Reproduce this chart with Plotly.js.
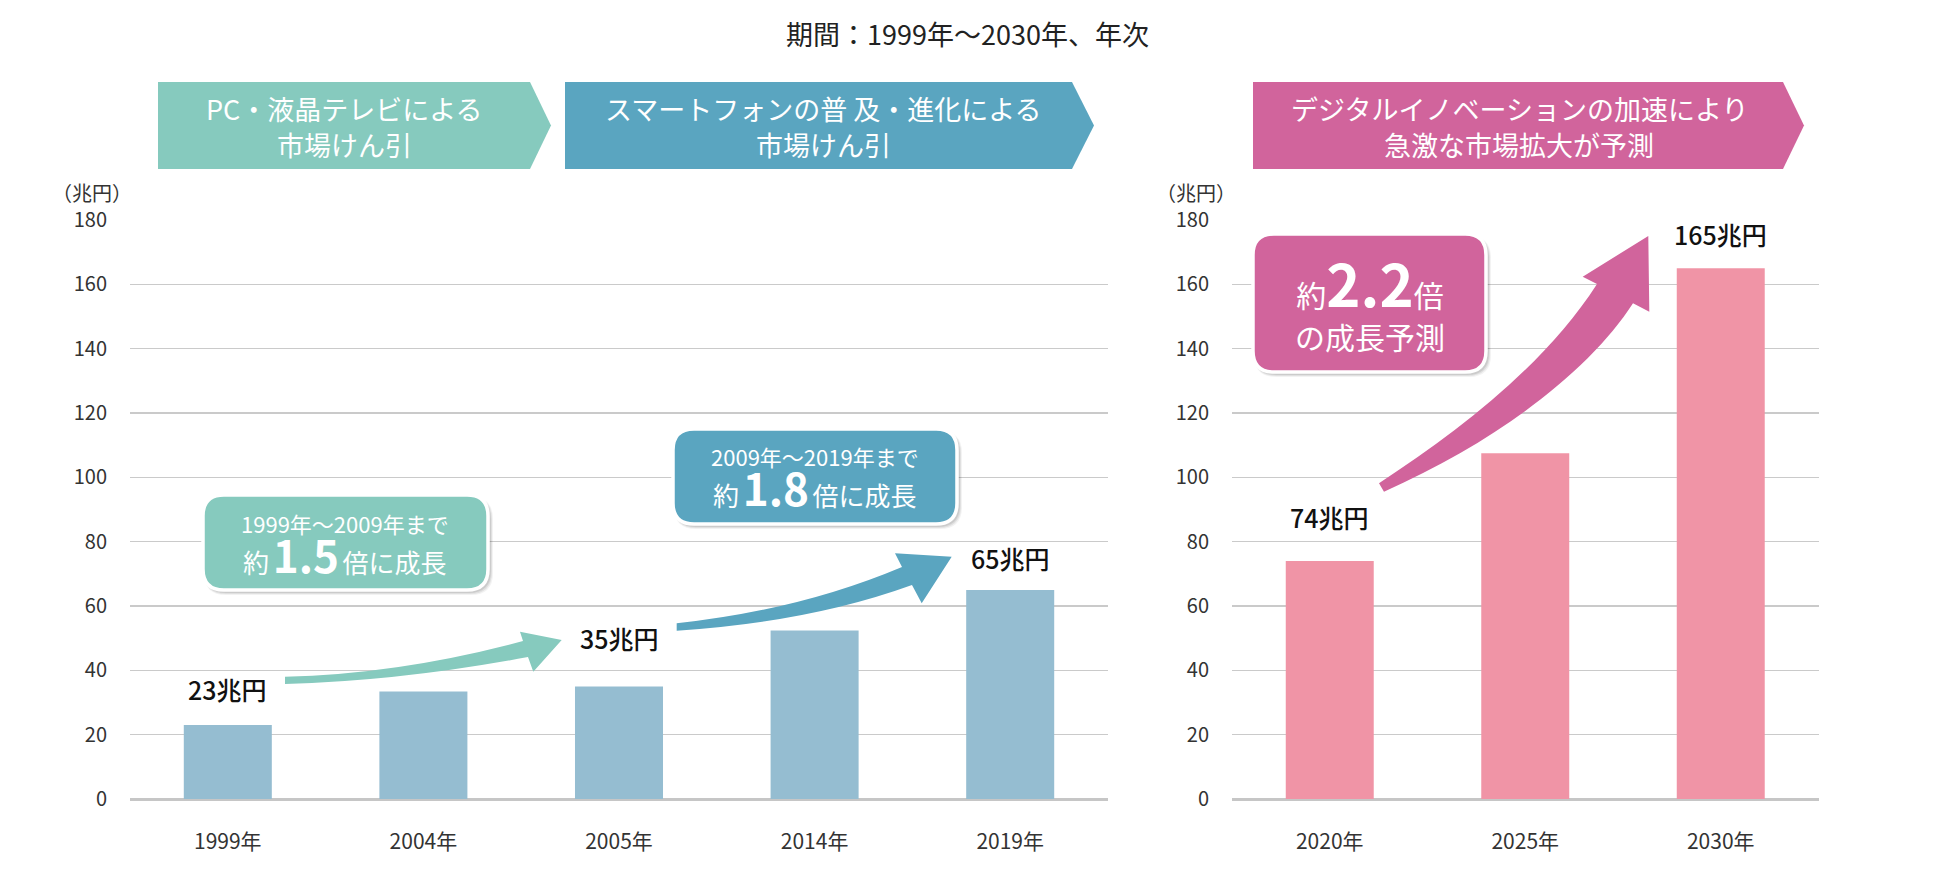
<!DOCTYPE html>
<html>
<head>
<meta charset="utf-8">
<script src="https://cdn.plot.ly/plotly-3.0.1.min.js"></script>
<style>
  html, body { margin: 0; padding: 0; background: #ffffff; }
  #chart { width: 1941px; height: 883px; }
</style>
</head>
<body>
<div id="chart"></div>
<script>
// 市場規模（兆円）: 実績
const pastYears  = ['1999年', '2004年', '2005年', '2014年', '2019年'];
const pastValues = [23, 33.4, 35, 52.4, 65];
const pastLabels = ['23兆円', '', '35兆円', '', '65兆円'];

// 市場規模（兆円）: 予測
const futureYears  = ['2020年', '2025年', '2030年'];
const futureValues = [74, 107.5, 165];
const futureLabels = ['74兆円', '', '165兆円'];

// 縦軸目盛
const yTicks = [0, 20, 40, 60, 80, 100, 120, 140, 160, 180];

// ---- drawing helpers -------------------------------------------------------
const W = 1941, H = 883;
const FONT = '"Noto Sans CJK JP", "Noto Sans", sans-serif';
const X = v => v / W;          // pixel -> paper (x)
const Y = v => 1 - v / H;      // pixel -> paper (y)
const P = (x, y) => X(x).toFixed(5) + ',' + Y(y).toFixed(5);

const TEAL = '#86cabe';
const BLUE = '#5aa5c0';
const PINK = '#d1649c';

function roundRect(x0, y0, x1, y1, r) {
  return 'M' + P(x0 + r, y0) + ' L' + P(x1 - r, y0) + ' Q' + P(x1, y0) + ' ' + P(x1, y0 + r) +
         ' L' + P(x1, y1 - r) + ' Q' + P(x1, y1) + ' ' + P(x1 - r, y1) +
         ' L' + P(x0 + r, y1) + ' Q' + P(x0, y1) + ' ' + P(x0, y1 - r) +
         ' L' + P(x0, y0 + r) + ' Q' + P(x0, y0) + ' ' + P(x0 + r, y0) + ' Z';
}

function banner(x0, x1, tip, y0, y1) {
  const ym = (y0 + y1) / 2;
  return 'M' + P(x0, y0) + ' L' + P(x1, y0) + ' L' + P(tip, ym) + ' L' + P(x1, y1) + ' L' + P(x0, y1) + ' Z';
}

const shapes = [];
function addShape(path, fill, line) {
  shapes.push({
    type: 'path', xref: 'paper', yref: 'paper', layer: 'above', path: path,
    fillcolor: fill, line: line || { width: 0 }
  });
}

// 期間の帯
addShape(banner(158, 530, 551, 82, 169), TEAL);
addShape(banner(565, 1072, 1094, 82, 169), BLUE);
addShape(banner(1253, 1783, 1804, 82, 169), PINK);

// 成長を示す矢印
addShape('M' + P(285, 676.7) + ' Q' + P(400, 674) + ' ' + P(523, 641) +
         ' L' + P(520, 631.7) + ' L' + P(561.7, 640) + ' L' + P(533.3, 671.7) +
         ' L' + P(528, 657) + ' Q' + P(400, 681) + ' ' + P(285, 684) + ' Z', TEAL);
addShape('M' + P(676.7, 623.3) + ' Q' + P(800, 610) + ' ' + P(902, 567) +
         ' L' + P(895, 553.3) + ' L' + P(951.7, 556.7) + ' L' + P(921.7, 603.3) +
         ' L' + P(912, 585) + ' Q' + P(810, 622) + ' ' + P(676.7, 630.7) + ' Z', BLUE);
addShape('M' + P(1379, 483.3) + ' C' + P(1460, 430) + ' ' + P(1545, 365) + ' ' + P(1597, 284) +
         ' L' + P(1582.7, 276.7) + ' L' + P(1648.3, 236) + ' L' + P(1649.3, 311.7) +
         ' L' + P(1633, 303.3) + ' C' + P(1590, 370) + ' ' + P(1500, 440) + ' ' + P(1384, 491.7) + ' Z', PINK);

// 吹き出し（影 + 本体）
function callout(x0, y0, x1, y1, fill) {
  [[5, 0.05], [4, 0.07], [3, 0.09]].forEach(([d, a]) => {
    addShape(roundRect(x0 + 1, y0 + 2, x1 + d, y1 + d, 22), 'rgba(0,0,0,' + a + ')');
  });
  addShape(roundRect(x0, y0, x1, y1, 21), fill, { color: '#ffffff', width: 3.5 });
}
callout(203, 495, 488, 590, TEAL);
callout(673, 429, 957, 524, BLUE);
callout(1253, 234, 1486, 372, PINK);

// ---- annotations -----------------------------------------------------------
const annotations = [];
function note(text, x, y, size, color, extra) {
  annotations.push(Object.assign({
    text: text, xref: 'paper', yref: 'paper', x: X(x), y: Y(y),
    xanchor: 'center', yanchor: 'middle', showarrow: false,
    font: { family: FONT, size: size, color: color }
  }, extra || {}));
}
const span = (px, s) => '<span style="font-size:' + px + 'px">' + s + '</span>';
const gap = span(16, ' ');

note('期間：1999年〜2030年、年次', 967, 33, 27, '#222222');

note('PC・液晶テレビによる', 344, 109, 27, '#ffffff');
note('市場けん引', 344, 145, 27, '#ffffff');
note('スマートフォンの普 及・進化による', 823, 109, 27, '#ffffff');
note('市場けん引', 823, 145, 27, '#ffffff');
note('デジタルイノベーションの加速により', 1519, 109, 27, '#ffffff');
note('急激な市場拡大が予測', 1519, 145, 27, '#ffffff');

note('（兆円）', 92, 192, 20, '#333333');
note('（兆円）', 1196, 192, 20, '#333333');

// 吹き出しの文言
note(span(22, '1999年〜2009年まで') + '<br>' + span(26, '約') + gap + '<b>' + span(44, '1.5') + '</b>' + gap + span(26, '倍に成長'),
     345, 546, 31, '#ffffff');
note(span(22, '2009年〜2019年まで') + '<br>' + span(26, '約') + gap + '<b>' + span(44, '1.8') + '</b>' + gap + span(26, '倍に成長'),
     815, 480, 31, '#ffffff');
note(span(30, '約') + '<b>' + span(58, '2.2') + '</b>' + span(30, '倍') + '<br>' + span(30, 'の成長予測'),
     1370, 299, 32, '#ffffff');

// 棒の上の金額ラベル
const pastLift = [36, 0, 48, 0, 32];
const futureLift = [44, 0, 34];
function valueLabels(cats, vals, labels, lift, xr, yr) {
  cats.forEach((c, i) => {
    if (!labels[i]) return;
    annotations.push({
      text: labels[i], xref: xr, yref: yr, x: c, y: vals[i],
      xanchor: 'center', yanchor: 'middle', yshift: lift[i], showarrow: false,
      font: { family: FONT, size: 25, color: '#111111', weight: 500 }
    });
  });
}
valueLabels(pastYears, pastValues, pastLabels, pastLift, 'x', 'y');
valueLabels(futureYears, futureValues, futureLabels, futureLift, 'x2', 'y2');

// ---- traces ----------------------------------------------------------------
const traces = [
  { type: 'bar', x: pastYears, y: pastValues, xaxis: 'x', yaxis: 'y',
    marker: { color: '#95bdd1' }, hoverinfo: 'skip' },
  { type: 'bar', x: futureYears, y: futureValues, xaxis: 'x2', yaxis: 'y2',
    marker: { color: '#f094a6' }, hoverinfo: 'skip' }
];

const xCommon = {
  type: 'category', showgrid: false, zeroline: false, showline: false, ticks: '',
  tickfont: { family: FONT, size: 21, color: '#333333' }, ticklabelstandoff: 28, fixedrange: true
};
const yCommon = {
  range: [0, 180], tickvals: yTicks, showgrid: true, gridcolor: '#cacaca', gridwidth: 1.5,
  zeroline: true, zerolinecolor: '#c6c6c6', zerolinewidth: 3, showline: false, ticks: '',
  tickfont: { family: FONT, size: 20, color: '#333333' }, ticklabelstandoff: 22, fixedrange: true,
  domain: [Y(799), Y(220)]
};

const layout = {
  width: W, height: H,
  margin: { l: 0, r: 0, t: 0, b: 0 },
  paper_bgcolor: '#ffffff', plot_bgcolor: 'rgba(0,0,0,0)',
  showlegend: false, bargap: 0.55,
  font: { family: FONT },
  xaxis: Object.assign({}, xCommon, { domain: [X(130), X(1108)], anchor: 'y' }),
  yaxis: Object.assign({}, yCommon, { anchor: 'x' }),
  xaxis2: Object.assign({}, xCommon, { domain: [X(1232), X(1818.5)], anchor: 'y2' }),
  yaxis2: Object.assign({}, yCommon, { anchor: 'x2' }),
  shapes: shapes,
  annotations: annotations
};

Plotly.newPlot('chart', traces, layout, { displayModeBar: false, staticPlot: true });
</script>
</body>
</html>
